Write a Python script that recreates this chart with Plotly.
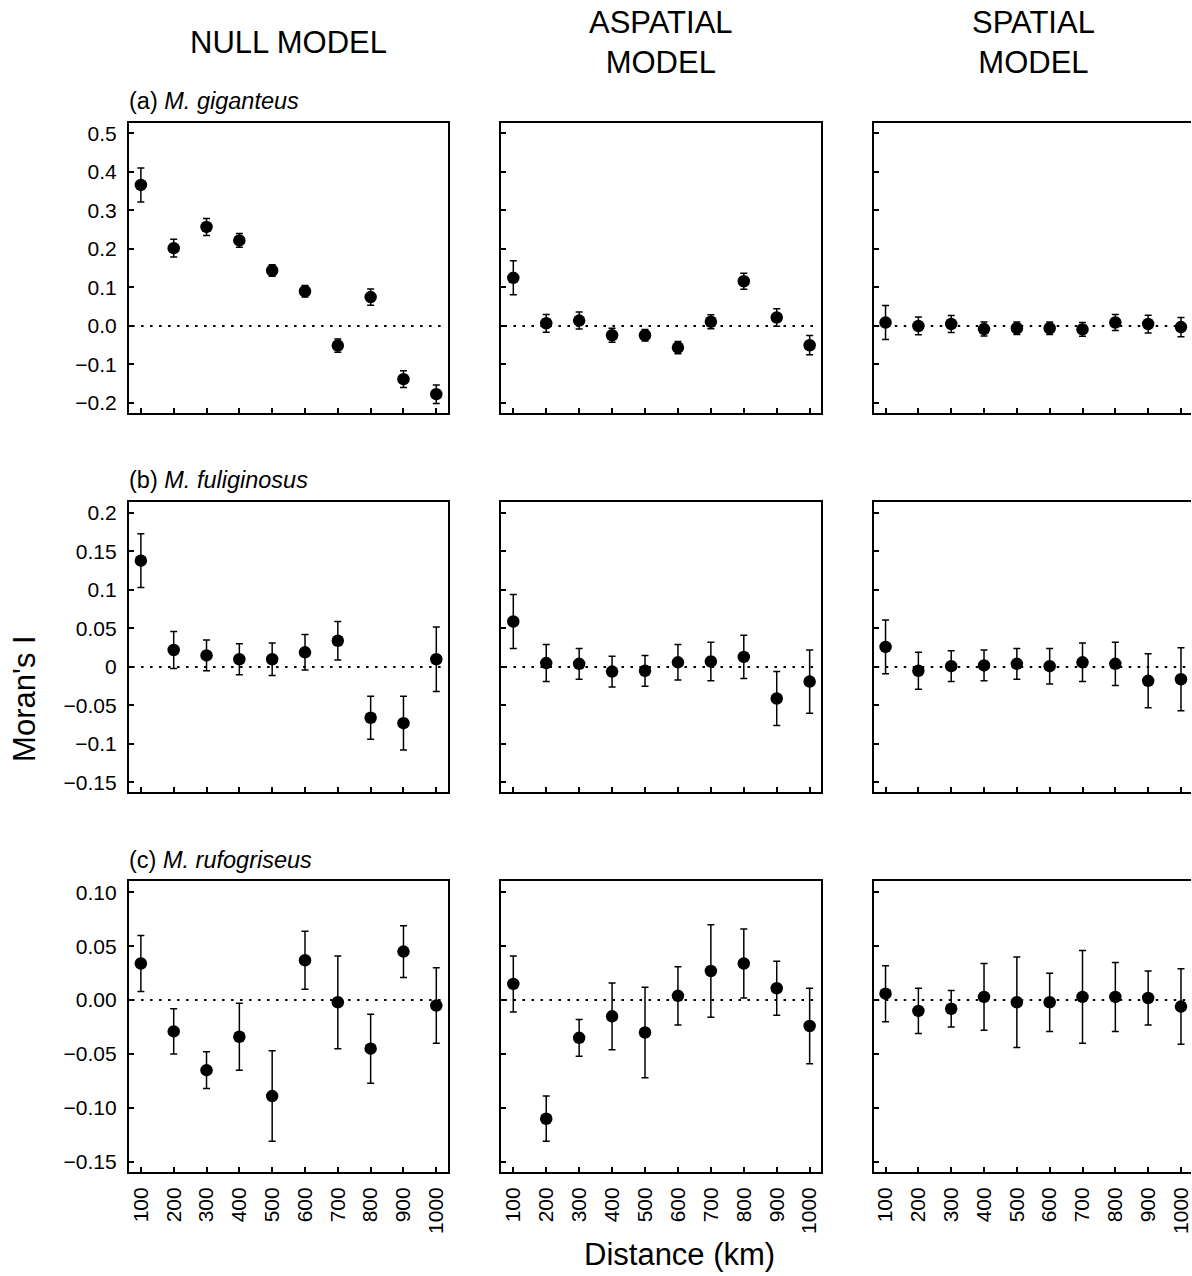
import plotly.graph_objects as go

W, H = 1192, 1276

distances = [100, 200, 300, 400, 500, 600, 700, 800, 900, 1000]
x_tick_labels = ["100", "200", "300", "400", "500", "600", "700", "800", "900", "1000"]

column_titles = ["NULL MODEL", "ASPATIAL<br>MODEL", "SPATIAL<br>MODEL"]
row_labels = ["(a) <i>M. giganteus</i>", "(b) <i>M. fuliginosus</i>", "(c) <i>M. rufogriseus</i>"]

# (a) M. giganteus
null_a = [0.366, 0.202, 0.257, 0.222, 0.144, 0.090, -0.051, 0.075, -0.138, -0.177]
null_a_err = [0.044, 0.023, 0.022, 0.018, 0.015, 0.015, 0.017, 0.021, 0.022, 0.024]
aspatial_a = [0.125, 0.007, 0.014, -0.024, -0.024, -0.056, 0.011, 0.116, 0.022, -0.050]
aspatial_a_err = [0.044, 0.023, 0.022, 0.018, 0.015, 0.016, 0.018, 0.021, 0.023, 0.025]
spatial_a = [0.009, 0.000, 0.005, -0.008, -0.006, -0.006, -0.009, 0.009, 0.005, -0.003]
spatial_a_err = [0.044, 0.023, 0.022, 0.018, 0.016, 0.016, 0.018, 0.021, 0.023, 0.025]

# (b) M. fuliginosus
null_b = [0.138, 0.022, 0.015, 0.010, 0.010, 0.019, 0.034, -0.066, -0.073, 0.010]
null_b_err = [0.035, 0.024, 0.020, 0.020, 0.021, 0.023, 0.025, 0.028, 0.035, 0.042]
aspatial_b = [0.059, 0.005, 0.004, -0.006, -0.005, 0.006, 0.007, 0.013, -0.041, -0.019]
aspatial_b_err = [0.035, 0.024, 0.020, 0.020, 0.020, 0.023, 0.025, 0.028, 0.035, 0.041]
spatial_b = [0.026, -0.005, 0.001, 0.002, 0.004, 0.001, 0.006, 0.004, -0.018, -0.016]
spatial_b_err = [0.035, 0.024, 0.020, 0.020, 0.020, 0.023, 0.025, 0.028, 0.035, 0.041]

# (c) M. rufogriseus
null_c = [0.034, -0.029, -0.065, -0.034, -0.089, 0.037, -0.002, -0.045, 0.045, -0.005]
null_c_err = [0.026, 0.021, 0.017, 0.031, 0.042, 0.027, 0.043, 0.032, 0.024, 0.035]
aspatial_c = [0.015, -0.110, -0.035, -0.015, -0.030, 0.004, 0.027, 0.034, 0.011, -0.024]
aspatial_c_err = [0.026, 0.021, 0.017, 0.031, 0.042, 0.027, 0.043, 0.032, 0.025, 0.035]
spatial_c = [0.006, -0.010, -0.008, 0.003, -0.002, -0.002, 0.003, 0.003, 0.002, -0.006]
spatial_c_err = [0.026, 0.021, 0.017, 0.031, 0.042, 0.027, 0.043, 0.032, 0.025, 0.035]

y_ticks_a = [-0.2, -0.1, 0.0, 0.1, 0.2, 0.3, 0.4, 0.5]
y_ticktext_a = ["\u22120.2", "\u22120.1", "0.0", "0.1", "0.2", "0.3", "0.4", "0.5"]
y_ticks_b = [-0.15, -0.1, -0.05, 0.0, 0.05, 0.1, 0.15, 0.2]
y_ticktext_b = ["\u22120.15", "\u22120.1", "\u22120.05", "0", "0.05", "0.1", "0.15", "0.2"]
y_ticks_c = [-0.15, -0.10, -0.05, 0.0, 0.05, 0.10]
y_ticktext_c = ["\u22120.15", "\u22120.10", "\u22120.05", "0.00", "0.05", "0.10"]

y_ranges = [[-0.226, 0.528], [-0.163, 0.2143], [-0.1593, 0.1102]]

series = [
    [(null_a, null_a_err), (aspatial_a, aspatial_a_err), (spatial_a, spatial_a_err)],
    [(null_b, null_b_err), (aspatial_b, aspatial_b_err), (spatial_b, spatial_b_err)],
    [(null_c, null_c_err), (aspatial_c, aspatial_c_err), (spatial_c, spatial_c_err)],
]
y_ticks = [(y_ticks_a, y_ticktext_a), (y_ticks_b, y_ticktext_b), (y_ticks_c, y_ticktext_c)]

FONT = "Liberation Sans, Arial, sans-serif"

# layout geometry in pixels
col_px = [(129, 448), (501.7, 821.7), (874.3, 1192)]
row_px = [(121.7, 412.7), (501.7, 792.7), (881.7, 1172.7)]
x_ranges = [[63.5, 1034.5], [63.5, 1034.5], [63.5, 1030.5]]

fig = go.Figure()
layout = dict(
    width=W, height=H, margin=dict(l=0, r=0, t=0, b=0),
    paper_bgcolor="white", plot_bgcolor="white", showlegend=False,
    font=dict(family=FONT, color="black"),
)
shapes = []
annotations = []

for r in range(3):
    for c in range(3):
        k = r * 3 + c + 1
        xa = "x" if k == 1 else f"x{k}"
        ya = "y" if k == 1 else f"y{k}"
        vals, errs = series[r][c]
        fig.add_trace(go.Scatter(
            x=distances, y=vals, mode="markers",
            marker=dict(color="black", size=12.5),
            error_y=dict(type="data", array=errs, visible=True,
                         color="black", thickness=1.5, width=3.5),
            xaxis=xa, yaxis=ya, cliponaxis=False,
        ))
        x0, x1 = col_px[c]
        y0, y1 = row_px[r]
        xdom = [x0 / W, min(x1 / W, 1.0)]
        ydom = [1 - y1 / H, 1 - y0 / H]
        layout["xaxis" if k == 1 else f"xaxis{k}"] = dict(
            domain=xdom, anchor=ya, range=x_ranges[c],
            tickmode="array", tickvals=distances,
            ticktext=x_tick_labels, showticklabels=(r == 2),
            tickangle=-90, ticks="inside", ticklen=5, tickwidth=1.5,
            tickcolor="black", showline=True, linecolor="black", linewidth=2,
            mirror=True, showgrid=False, zeroline=False,
            tickfont=dict(size=21, family=FONT, color="black"),
            ticklabelstandoff=5, ticklabeloverflow="allow",
        )
        tv, tt = y_ticks[r]
        layout["yaxis" if k == 1 else f"yaxis{k}"] = dict(
            domain=ydom, anchor=xa, range=y_ranges[r],
            tickmode="array", tickvals=tv, ticktext=tt,
            showticklabels=(c == 0),
            ticks="inside", ticklen=5, tickwidth=1.5, tickcolor="black",
            showline=True, linecolor="black", linewidth=2,
            mirror=(c != 2), showgrid=False, zeroline=False,
            tickfont=dict(size=21, family=FONT, color="black"),
            ticklabelstandoff=6,
        )
        shapes.append(dict(
            type="line", xref=f"{xa} domain", yref=ya,
            x0=0.01, x1=0.99, y0=0, y1=0,
            line=dict(color="black", width=2, dash="2.5px,6.5px"),
        ))

# column titles
col_title_x = [289, 662, 1034]
for c in range(3):
    annotations.append(dict(
        text=column_titles[c], xref="paper", yref="paper",
        x=col_title_x[c] / W, y=1 - 42 / H, xanchor="center", yanchor="middle",
        showarrow=False, font=dict(size=31, family=FONT, color="black"),
    ))

# row labels
row_label_y = [100, 480, 860]
for r in range(3):
    annotations.append(dict(
        text=row_labels[r], xref="paper", yref="paper",
        x=127 / W, y=1 - row_label_y[r] / H, xanchor="left", yanchor="middle",
        showarrow=False, font=dict(size=23.5, family=FONT, color="black"),
    ))

annotations.append(dict(
    text="Moran's I", xref="paper", yref="paper",
    x=25 / W, y=1 - 698 / H, xanchor="center", yanchor="middle",
    textangle=-90, showarrow=False, font=dict(size=31, family=FONT, color="black"),
))
annotations.append(dict(
    text="Distance (km)", xref="paper", yref="paper",
    x=680 / W, y=1 - 1255 / H, xanchor="center", yanchor="middle",
    showarrow=False, font=dict(size=31, family=FONT, color="black"),
))

layout["shapes"] = shapes
layout["annotations"] = annotations
fig.update_layout(**layout)
fig.write_html("out.html")
